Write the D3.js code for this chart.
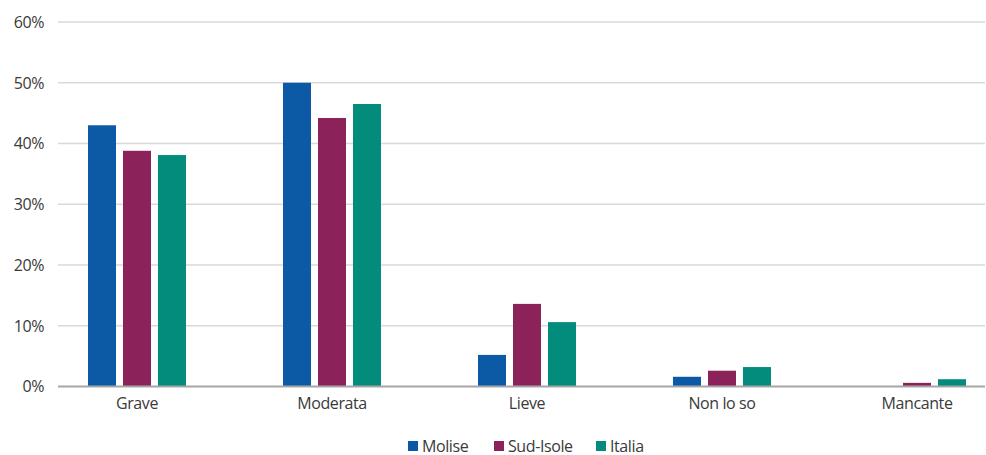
<!DOCTYPE html>
<html>
<head>
<meta charset="utf-8">
<script src="https://cdn.jsdelivr.net/npm/d3@7/dist/d3.min.js"></script>
<style>
  html, body { margin: 0; padding: 0; background: #fff; }
  svg { display: block; font-family: "Open Sans", "Noto Sans", sans-serif; }
  svg text { letter-spacing: -0.4px; }
</style>
</head>
<body>
<svg id="chart" width="986" height="455"></svg>
<script>
// Severity categories and share of respondents (%) per area
const categories = ["Grave", "Moderata", "Lieve", "Non lo so", "Mancante"];
const seriesNames = ["Molise", "Sud-Isole", "Italia"];
const molise   = [43.0, 50.0, 5.2, 1.6, 0.0];
const sudIsole = [38.8, 44.2, 13.6, 2.6, 0.6];
const italia   = [38.1, 46.5, 10.6, 3.2, 1.2];
const yTicks = [0, 10, 20, 30, 40, 50, 60];
const colors = ["#0c5aa6", "#8b2259", "#038c7c"];

const series = [molise, sudIsole, italia];

const svg = d3.select("#chart");
const gridLeft = 58, gridRight = 985;
const plotTop = 22, plotBottom = 386.5;
const textColor = "#3a3a3a";

const y = d3.scaleLinear().domain([0, 60]).range([plotBottom, plotTop]);
const x0 = d3.scaleBand().domain(categories).range([39.5, 1014.5]).paddingInner(0).paddingOuter(0);
const x1 = d3.scaleBand().domain(seriesNames).range([x0.bandwidth() / 2 - 49, x0.bandwidth() / 2 + 49]).paddingInner(0.2);

// horizontal gridlines
svg.append("g")
  .selectAll("line")
  .data(yTicks.filter(d => d > 0))
  .join("line")
  .attr("x1", gridLeft).attr("x2", gridRight)
  .attr("y1", d => y(d)).attr("y2", d => y(d))
  .attr("stroke", "#d9d9d9").attr("stroke-width", 1.3);

// y tick labels
svg.append("g")
  .selectAll("text")
  .data(yTicks)
  .join("text")
  .attr("x", 44)
  .attr("y", d => y(d))
  .attr("dy", "0.36em")
  .attr("text-anchor", "end")
  .attr("font-size", 16)
  .attr("fill", textColor)
  .text(d => d + "%");

// bars
const groups = svg.append("g")
  .selectAll("g")
  .data(categories)
  .join("g")
  .attr("transform", d => `translate(${x0(d)},0)`);

groups.selectAll("rect")
  .data((c, i) => seriesNames.map((s, j) => ({ s, v: series[j][i], c: colors[j] })))
  .join("rect")
  .attr("x", d => x1(d.s))
  .attr("width", x1.bandwidth())
  .attr("y", d => y(d.v))
  .attr("height", d => y(0) - y(d.v))
  .attr("fill", d => d.c);

// baseline
svg.append("line")
  .attr("x1", gridLeft).attr("x2", gridRight)
  .attr("y1", y(0)).attr("y2", y(0))
  .attr("stroke", "#a6a6a6").attr("stroke-width", 2);

// category labels
svg.append("g")
  .selectAll("text")
  .data(categories)
  .join("text")
  .attr("x", d => x0(d) + x0.bandwidth() / 2)
  .attr("y", 409)
  .attr("text-anchor", "middle")
  .attr("font-size", 16)
  .attr("fill", textColor)
  .text(d => d);

// legend
const legendX = [408, 494, 596];
const legend = svg.append("g")
  .selectAll("g")
  .data(seriesNames)
  .join("g")
  .attr("transform", (d, i) => `translate(${legendX[i]},441)`);
legend.append("rect")
  .attr("width", 10).attr("height", 10)
  .attr("fill", (d, i) => colors[i]);
legend.append("text")
  .attr("x", 14).attr("y", 10.5)
  .attr("font-size", 16)
  .attr("fill", textColor)
  .text(d => d);
</script>
</body>
</html>
